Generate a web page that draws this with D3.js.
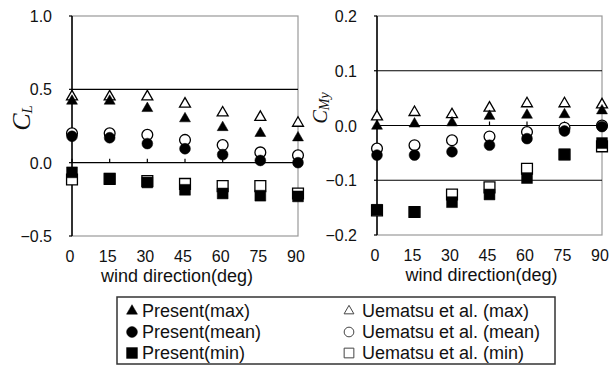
<!DOCTYPE html>
<meta charset="utf-8">
<style>
  body { margin: 0; background: #fff; }
  text { font-family: Arial, "Liberation Sans", sans-serif; fill: #111; }
  .tick { font-size: 16px; }
  .title { font-size: 18px; }
  .legend text { font-size: 18px; }
  .grid { stroke: #000; stroke-width: 1.2px; }
  .frame { fill: none; stroke: #999; stroke-width: 1.2px; }
  .yaxis { stroke: #000; stroke-width: 1.5px; }
</style>
<svg width="609" height="365"></svg>
<script src="https://cdnjs.cloudflare.com/ajax/libs/d3/7.8.5/d3.min.js"></script>
<script>

  var angles = [0, 15, 30, 45, 60, 75, 90];

  // lift coefficient CL
  var clPresentMax = [0.42, 0.42, 0.37, 0.30, 0.24, 0.20, 0.17];
  var clPresentMean = [0.18, 0.17, 0.13, 0.095, 0.055, 0.015, 0.0];
  var clPresentMin = [-0.066, -0.11, -0.135, -0.185, -0.21, -0.225, -0.23];
  var clUematsuMax = [0.45, 0.45, 0.45, 0.40, 0.34, 0.31, 0.27];
  var clUematsuMean = [0.20, 0.20, 0.19, 0.155, 0.12, 0.07, 0.05];
  var clUematsuMin = [-0.115, -0.11, -0.125, -0.145, -0.16, -0.16, -0.21];

  // moment coefficient CMy
  var cmPresentMax = [-0.001, 0.003, 0.005, 0.017, 0.019, 0.02, 0.027];
  var cmPresentMean = [-0.054, -0.054, -0.048, -0.036, -0.024, -0.01, -0.002];
  var cmPresentMin = [-0.154, -0.158, -0.14, -0.126, -0.096, -0.053, -0.032];
  var cmUematsuMax = [0.016, 0.024, 0.02, 0.032, 0.04, 0.04, 0.038];
  var cmUematsuMean = [-0.042, -0.036, -0.027, -0.02, -0.012, -0.004, 0.0];
  var cmUematsuMin = [-0.155, -0.158, -0.126, -0.113, -0.079, -0.053, -0.038];

  var clTicks = [-0.5, 0.0, 0.5, 1.0];
  var cmTicks = [-0.2, -0.1, 0.0, 0.1, 0.2];

  var legendItems = [
    { label: "Present(max)", shape: "triangle", filled: true },
    { label: "Uematsu et al. (max)", shape: "triangle", filled: false },
    { label: "Present(mean)", shape: "circle", filled: true },
    { label: "Uematsu et al. (mean)", shape: "circle", filled: false },
    { label: "Present(min)", shape: "square", filled: true },
    { label: "Uematsu et al. (min)", shape: "square", filled: false }
  ];

  var svg = d3.select("svg");

  var symbols = {
    triangle: d3.symbolTriangle,
    circle: d3.symbolCircle,
    square: d3.symbolSquare
  };
  var sizes = { triangle: 52, circle: 92, square: 118 };

  function marker(shape, scale) {
    return d3.symbol().type(symbols[shape]).size(sizes[shape] * (scale || 1));
  }

  function panel(opts) {
    var x = d3.scaleLinear().domain([0, 90]).range([opts.left, opts.right]);
    var y = d3.scaleLinear().domain(opts.domain).range([opts.bottom, opts.top]);
    var g = svg.append("g");

    // frame
    g.append("rect").attr("class", "frame")
      .attr("x", opts.left).attr("y", opts.top)
      .attr("width", opts.right - opts.left).attr("height", opts.bottom - opts.top);

    // gridlines (inner ticks)
    g.selectAll("line.grid").data(opts.ticks.filter(function (t) {
      return t > opts.domain[0] && t < opts.domain[1];
    }))
      .enter().append("line").attr("class", "grid")
      .attr("x1", opts.left).attr("x2", opts.right)
      .attr("y1", function (d) { return y(d); }).attr("y2", function (d) { return y(d); });

    // y axis line
    g.append("line").attr("class", "yaxis")
      .attr("x1", opts.left).attr("x2", opts.left)
      .attr("y1", opts.top).attr("y2", opts.bottom);
    g.selectAll("line.ytick").data(opts.ticks).enter().append("line")
      .attr("stroke", "#000").attr("stroke-width", 1.2)
      .attr("x1", opts.left - 3).attr("x2", opts.left)
      .attr("y1", function (d) { return y(d); }).attr("y2", function (d) { return y(d); });

    // x ticks on the zero line
    g.selectAll("line.xtick").data(angles).enter().append("line")
      .attr("stroke", "#000").attr("stroke-width", 1.2)
      .attr("x1", function (d) { return x(d); }).attr("x2", function (d) { return x(d); })
      .attr("y1", y(0) - 4).attr("y2", y(0));

    // y tick labels
    g.selectAll("text.ylab").data(opts.ticks).enter().append("text")
      .attr("class", "tick")
      .attr("x", opts.left - 20).attr("y", function (d) { return y(d) + 6; })
      .attr("text-anchor", "end")
      .text(function (d) { return d3.format(".1f")(d); });

    // x tick labels
    g.selectAll("text.xlab").data(angles).enter().append("text")
      .attr("class", "tick")
      .attr("x", function (d) { return x(d) - 2; }).attr("y", opts.bottom + 26)
      .attr("text-anchor", "middle")
      .text(function (d) { return d; });

    g.append("text").attr("class", "title")
      .attr("x", (opts.left + opts.right) / 2 - 8).attr("y", opts.bottom + 46)
      .attr("text-anchor", "middle")
      .text("wind direction(deg)");

    // y title
    var t = g.append("text")
      .attr("transform", "translate(" + opts.titleX + "," + opts.titleY + ") rotate(-90)")
      .attr("text-anchor", "middle")
      .style("font-family", "'Liberation Serif', 'Times New Roman', serif")
      .style("font-style", "italic");
    t.append("tspan").style("font-size", opts.titleSize + "px").text("C");
    t.append("tspan").style("font-size", opts.subSize + "px").attr("dy", opts.subDy).text(opts.sub);

    // series: open (reference) below, filled (present) on top
    opts.series.forEach(function (s) {
      g.selectAll(null).data(s.values).enter().append("path")
        .attr("d", marker(s.shape)())
        .attr("transform", function (d, i) { return "translate(" + x(angles[i]) + "," + y(d) + ")"; })
        .attr("fill", s.filled ? "#000" : "#fff")
        .attr("stroke", "#000")
        .attr("stroke-width", s.filled ? 0.5 : 1.3);
    });
  }

  panel({
    left: 72, right: 298, top: 16, bottom: 236,
    domain: [-0.5, 1.0], ticks: clTicks,
    titleX: 30, titleY: 118, titleSize: 26, subSize: 15, subDy: 2, sub: "L",
    series: [
      { values: clUematsuMax, shape: "triangle", filled: false },
      { values: clUematsuMean, shape: "circle", filled: false },
      { values: clUematsuMin, shape: "square", filled: false },
      { values: clPresentMax, shape: "triangle", filled: true },
      { values: clPresentMean, shape: "circle", filled: true },
      { values: clPresentMin, shape: "square", filled: true }
    ]
  });

  panel({
    left: 377, right: 602, top: 16, bottom: 235,
    domain: [-0.2, 0.2], ticks: cmTicks,
    titleX: 327, titleY: 108, titleSize: 20, subSize: 14, subDy: 2, sub: "My",
    series: [
      { values: cmUematsuMax, shape: "triangle", filled: false },
      { values: cmUematsuMean, shape: "circle", filled: false },
      { values: cmUematsuMin, shape: "square", filled: false },
      { values: cmPresentMax, shape: "triangle", filled: true },
      { values: cmPresentMean, shape: "circle", filled: true },
      { values: cmPresentMin, shape: "square", filled: true }
    ]
  });

  // legend
  var lg = svg.append("g").attr("class", "legend");
  lg.append("rect")
    .attr("x", 117).attr("y", 297).attr("width", 438).attr("height", 67)
    .attr("fill", "none").attr("stroke", "#333").attr("stroke-width", 1.5);

  var item = lg.selectAll("g.item").data(legendItems).enter().append("g")
    .attr("transform", function (d, i) {
      var col = i % 2, row = Math.floor(i / 2);
      return "translate(" + (col ? 349 : 132) + "," + (311 + row * 21) + ")";
    });
  item.append("path")
    .attr("d", function (d) { return marker(d.shape, d.filled ? 1.0 : 0.8)(); })
    .attr("fill", function (d) { return d.filled ? "#000" : "#fff"; })
    .attr("stroke", function (d) { return d.filled ? "#000" : "#444"; })
    .attr("stroke-width", function (d) { return d.filled ? 0.5 : 1; });
  item.append("text")
    .attr("x", function (d, i) { return i % 2 ? 13 : 10; })
    .attr("y", 6)
    .text(function (d) { return d.label; });

</script>
